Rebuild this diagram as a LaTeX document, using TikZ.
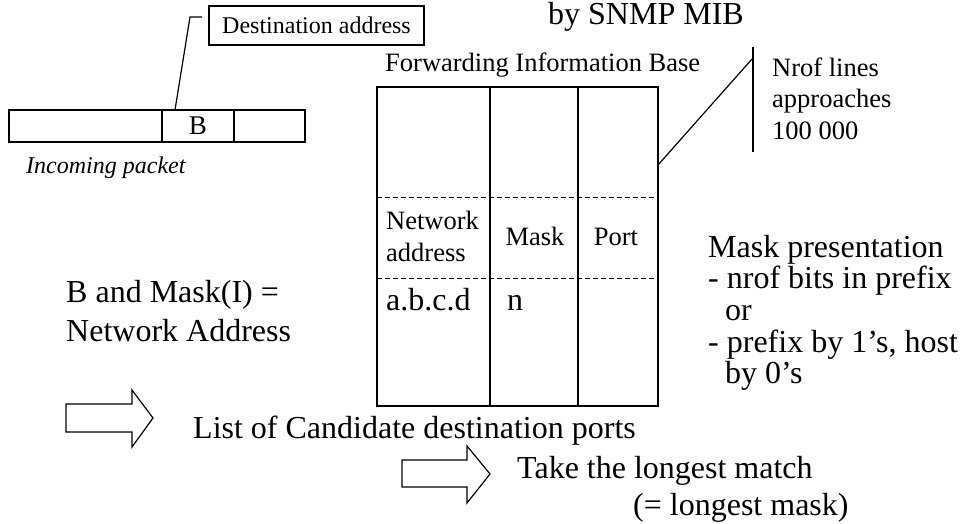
\documentclass[tikz,border=0pt]{standalone}
\usepackage{fontspec}
\setmainfont{Liberation Serif}
\begin{document}
\begin{tikzpicture}[x=1pt,y=-1pt,
  ln/.style={line width=1.2pt, line join=miter},
  big/.style={font=\fontsize{32}{38}\selectfont, inner sep=0pt, anchor=base west},
  mid/.style={font=\fontsize{26.5}{32}\selectfont, inner sep=0pt, anchor=base west},
  sml/.style={font=\fontsize{24}{28}\selectfont, inner sep=0pt, anchor=base west},
  cell/.style={draw, line width=1.2pt, rectangle, inner sep=0pt, outer sep=0pt, minimum height=32pt, font=\fontsize{27}{30}\selectfont},
  dsh/.style={line width=1pt, dash pattern=on 5pt off 3pt},
  blockarrow/.style={draw, line width=1.2pt, fill=white, line join=miter}]
\useasboundingbox (0,0) rectangle (964,524);

% incoming packet
\node[cell, minimum width=153pt] (p1) at (85.5,126) {};
\node[cell, minimum width=72pt] (Bcell) at (198,126) {B};
\node[cell, minimum width=71pt] (p3) at (269.5,126) {};
\node[sml, font=\fontsize{24}{28}\selectfont\itshape] (inc) at (26,173) {Incoming packet};

% destination address callout
\node[draw, line width=1.2pt, rectangle, inner sep=0pt, outer sep=0pt, minimum width=215pt, minimum height=39pt, font=\fontsize{24}{28}\selectfont] (dest) at (316.5,25.5) {Destination address};
\coordinate (bend) at (190,17);
\coordinate (cend) at (202,17);
\draw[ln] ([xshift=-23pt]Bcell.north) -- (bend) -- (cend);

% title
\node[big] (snmp) at (548,25) {by SNMP MIB};
\node[mid] (fibt) at (385,72) {Forwarding Information Base};

% FIB table
\node[draw, line width=1.2pt, rectangle, inner sep=0pt, outer sep=0pt, minimum width=281pt, minimum height=319pt] (fib) at (517.5,246.5) {};
\coordinate (c1t) at (490,87); \coordinate (c1b) at (490,406);
\coordinate (c2t) at (578,87); \coordinate (c2b) at (578,406);
\draw[ln] (c1t) -- (c1b);
\draw[ln] (c2t) -- (c2b);
\draw[dsh] (fib.west |- 0,197) -- (fib.east |- 0,197);
\draw[dsh] (fib.west |- 0,278) -- (fib.east |- 0,278);

\node[mid] (na1) at (386,229) {Network};
\node[mid] (na2) at (386,261) {address};
\node[mid, anchor=base] (mask) at (535,245) {Mask};
\node[mid, anchor=base] (port) at (616,245) {Port};
\node[big] (abcd) at (386,310) {a.b.c.d};
\node[big] (nn) at (507,310) {n};

% Nrof lines
\coordinate (vt) at (753,47);
\coordinate (vb) at (753,152);
\coordinate (vj) at (752,59);
\draw[ln] (vt) -- (vb);
\draw[ln] ([yshift=-78pt]fib.north east) -- (vj);
\node[mid] (nr1) at (772,77) {Nrof lines};
\node[mid] (nr2) at (772,108) {approaches};
\node[mid] (nr3) at (772,140) {100 000};

% left text
\node[big] (band) at (66,302) {B and Mask(I) =};
\node[big] (neta) at (66,341) {Network Address};

% mask presentation
\node[big] (mp1) at (708,257) {Mask presentation};
\node[big] (mp2) at (708,288) {- nrof bits in prefix};
\node[big] (mp3) at (725,320) {or};
\node[big] (mp4) at (708,352) {- prefix by 1’s, host};
\node[big] (mp5) at (725,383) {by 0’s};

% arrows and bottom text
\draw[blockarrow] (66,404) -- (132,404) -- (132,390) -- (153,418) -- (132,447) -- (132,432) -- (66,432) -- cycle;
\node[big] (list) at (193,438) {List of Candidate destination ports};
\draw[blockarrow] (402,460) -- (467,460) -- (467,446) -- (490,474) -- (467,503) -- (467,487) -- (402,487) -- cycle;
\node[big] (take) at (517,478) {Take the longest match};
\node[big] (eq) at (633,515) {(= longest mask)};
\end{tikzpicture}
\end{document}
